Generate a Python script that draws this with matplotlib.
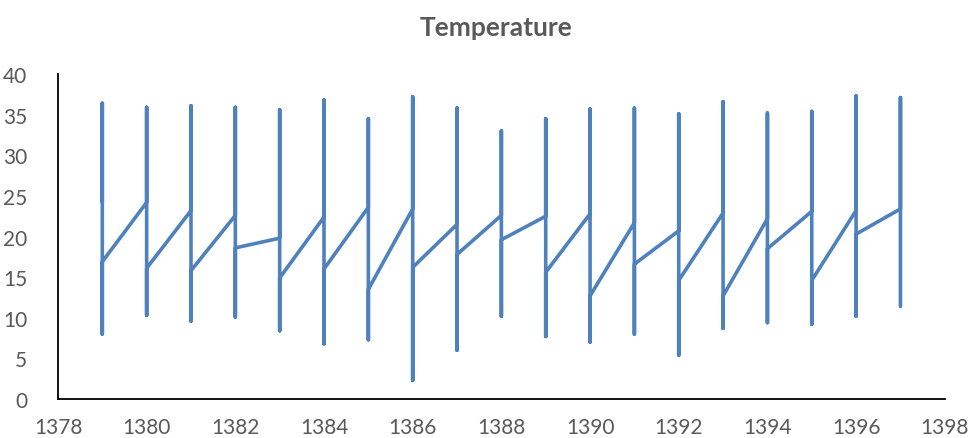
import matplotlib.pyplot as plt

# 年份 (每年画四个点: 年初, 最高, 最低, 年末)
years = [1379, 1380, 1381, 1382, 1383, 1384, 1385, 1386, 1387, 1388,
         1389, 1390, 1391, 1392, 1393, 1394, 1395, 1396, 1397]
first_temp = [24.2, 24.2, 23.2, 22.6, 19.8, 22.4, 23.6, 23.4, 21.5, 22.6,
              22.5, 22.8, 21.7, 20.7, 22.9, 22.2, 23.1, 23.2, 23.4]
max_temp = [36.4, 35.9, 36.1, 35.9, 35.6, 36.8, 34.5, 37.2, 35.8, 33.0,
            34.5, 35.7, 35.8, 35.1, 36.6, 35.2, 35.4, 37.3, 37.1]
min_temp = [8.0, 10.3, 9.6, 10.1, 8.4, 6.8, 7.3, 2.3, 6.0, 10.2,
            7.7, 7.0, 8.0, 5.4, 8.7, 9.4, 9.2, 10.2, 11.4]
last_temp = [16.9, 16.1, 15.8, 18.6, 14.9, 16.0, 13.5, 16.2, 17.8, 19.6,
             15.6, 12.7, 16.6, 14.6, 12.7, 18.5, 14.6, 20.3, 11.4]

x = []
y = []
for i in range(len(years)):
    x += [years[i]] * 4
    y += [first_temp[i], max_temp[i], min_temp[i], last_temp[i]]

plt.rcParams['font.family'] = ['Lato', 'DejaVu Sans']
grey = '#595959'

fig = plt.figure(figsize=(9.71, 4.39), dpi=100)
ax = fig.add_axes([0.0597, 0.0888, 0.9133, 0.7403])

ax.plot(x, y, color='#4F81BD', linewidth=2.6, solid_capstyle='round',
        solid_joinstyle='round')

ax.set_xlim(1378, 1398)
ax.set_ylim(0, 40)
ax.set_xticks(range(1378, 1399, 2))
ax.set_yticks(range(0, 41, 5))

for s in ['top', 'right']:
    ax.spines[s].set_visible(False)
for s in ['left', 'bottom']:
    ax.spines[s].set_color('black')
    ax.spines[s].set_linewidth(1.3)

ax.tick_params(axis='both', length=0, labelsize=15, labelcolor=grey)
ax.tick_params(axis='y', pad=22)
ax.tick_params(axis='x', pad=13)

fig.text(0.511, 0.937, 'Temperature', ha='center', va='center',
         fontsize=19, fontweight='bold', color=grey)

fig.savefig('out.png', dpi=100)
